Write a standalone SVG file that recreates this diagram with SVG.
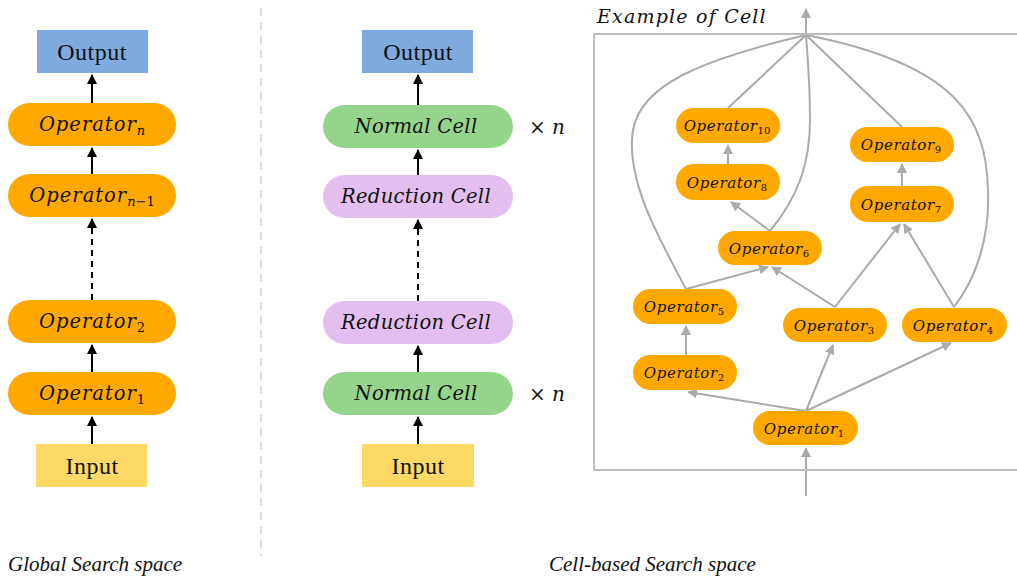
<svg xmlns="http://www.w3.org/2000/svg" width="1017" height="578" viewBox="0 0 1017 578">
  <style>
    .op { fill: #ffa800; }
    .normal { fill: #94d58b; }
    .reduct { fill: #e2bfee; }
    .out { fill: #7eaadf; }
    .in { fill: #ffd966; }
    .math { font-family: "DejaVu Serif", "Liberation Serif", serif; font-style: italic; fill: #111; }
    .big { font-size: 19.5px; letter-spacing: 1px; }
    .cellname { font-size: 19.5px; letter-spacing: 0.3px; }
    .small { font-size: 15px; letter-spacing: 0.6px; }
    .sub { font-size: 13px; font-style: normal; letter-spacing: 0; }
    .var { font-style: italic; }
    .subs { font-size: 10px; font-style: normal; letter-spacing: 0; }
    .label { font-family: "Liberation Serif", "DejaVu Serif", serif; font-size: 24px; letter-spacing: 0.5px; fill: #111; }
    .caption { font-family: "Liberation Serif", serif; font-style: italic; font-size: 21px; fill: #111; }
    .blk { stroke: #000; stroke-width: 2; fill: none; }
    .blkdash { stroke: #000; stroke-width: 2; fill: none; stroke-dasharray: 6 5; }
    .gry { stroke: #aaaaaa; stroke-width: 2; fill: none; }
  </style>
  <defs>
    <marker id="ab" viewBox="0 0 10 10" refX="9" refY="5" markerWidth="5" markerHeight="5" orient="auto" markerUnits="strokeWidth">
      <path d="M0,0 L10,5 L0,10 z" fill="#000"/>
    </marker>
    <marker id="ag" viewBox="0 0 10 10" refX="9" refY="5" markerWidth="5" markerHeight="5" orient="auto" markerUnits="strokeWidth">
      <path d="M0,0 L10,5 L0,10 z" fill="#aaaaaa"/>
    </marker>
  </defs>

  <rect width="1017" height="578" fill="#fff"/>

  <!-- divider between the two panels -->
  <line x1="261" y1="8" x2="261" y2="556" stroke="#dddddd" stroke-width="2" stroke-dasharray="8 6"/>

  <!-- connectors -->
  <g id="connectors">
    <!-- global search space -->
    <line class="blk" x1="92" y1="103" x2="92" y2="75" marker-end="url(#ab)"/>
    <line class="blk" x1="92" y1="174" x2="92" y2="148" marker-end="url(#ab)"/>
    <line class="blkdash" x1="92" y1="300" x2="92" y2="219" marker-end="url(#ab)"/>
    <line class="blk" x1="92" y1="372" x2="92" y2="345" marker-end="url(#ab)"/>
    <line class="blk" x1="92" y1="444" x2="92" y2="417" marker-end="url(#ab)"/>
    <!-- cell-based search space -->
    <line class="blk" x1="418" y1="105" x2="418" y2="75" marker-end="url(#ab)"/>
    <line class="blk" x1="418" y1="175" x2="418" y2="150" marker-end="url(#ab)"/>
    <line class="blkdash" x1="418" y1="301" x2="418" y2="220" marker-end="url(#ab)"/>
    <line class="blk" x1="418" y1="372" x2="418" y2="346" marker-end="url(#ab)"/>
    <line class="blk" x1="418" y1="444" x2="418" y2="417" marker-end="url(#ab)"/>
    <!-- example cell -->
    <line class="gry" x1="806" y1="496" x2="806" y2="448" marker-end="url(#ag)"/>
    <line class="gry" x1="806" y1="411" x2="688" y2="392" marker-end="url(#ag)"/>
    <line class="gry" x1="806" y1="411" x2="833" y2="345" marker-end="url(#ag)"/>
    <line class="gry" x1="806" y1="411" x2="951" y2="343" marker-end="url(#ag)"/>
    <line class="gry" x1="686" y1="355" x2="686" y2="326" marker-end="url(#ag)"/>
    <line class="gry" x1="686" y1="289" x2="768" y2="267" marker-end="url(#ag)"/>
    <line class="gry" x1="835" y1="307" x2="772" y2="267" marker-end="url(#ag)"/>
    <line class="gry" x1="835" y1="307" x2="900" y2="224" marker-end="url(#ag)"/>
    <line class="gry" x1="954" y1="307" x2="904" y2="224" marker-end="url(#ag)"/>
    <line class="gry" x1="770" y1="231" x2="731" y2="202" marker-end="url(#ag)"/>
    <line class="gry" x1="728" y1="164" x2="728" y2="145" marker-end="url(#ag)"/>
    <line class="gry" x1="902" y1="186" x2="902" y2="164" marker-end="url(#ag)"/>
    <line class="gry" x1="728" y1="108" x2="806" y2="35"/>
    <line class="gry" x1="902" y1="127" x2="806" y2="35"/>
    <path class="gry" d="M686,289 C660,240 625,180 633,130 C641,85 700,60 806,35"/>
    <path class="gry" d="M770,231 C800,195 810,160 810,120 C810,80 807,50 806,35"/>
    <path class="gry" d="M954,307 C975,280 990,240 988,190 C986,120 960,65 806,35"/>
    <line class="gry" x1="806" y1="35" x2="806" y2="9" marker-end="url(#ag)"/>
  </g>

  <!-- cell frame -->
  <g id="cell-frame">
    <rect x="594" y="34" width="430" height="436" fill="none" stroke="#bbbbbb" stroke-width="2"/>
    <text class="math" x="597" y="23" font-size="19" letter-spacing="1.2">Example of Cell</text>
  </g>

  <!-- global search space column -->
  <g id="g-output"><rect class="out" x="37" y="30" width="111" height="43"/><text class="label" x="92" y="60" text-anchor="middle">Output</text></g>
  <g id="g-op-n"><rect class="op" x="8" y="103" width="168" height="43" rx="21.5"/><text class="math big" x="92" y="131" text-anchor="middle">Operator<tspan class="sub var" dy="4">n</tspan></text></g>
  <g id="g-op-n1"><rect class="op" x="8" y="174" width="168" height="43" rx="21.5"/><text class="math big" x="92" y="202" text-anchor="middle">Operator<tspan class="sub var" dy="4">n</tspan><tspan class="sub">−1</tspan></text></g>
  <g id="g-op-2"><rect class="op" x="8" y="300" width="168" height="43" rx="21.5"/><text class="math big" x="92" y="328" text-anchor="middle">Operator<tspan class="sub" dy="4">2</tspan></text></g>
  <g id="g-op-1"><rect class="op" x="8" y="372" width="168" height="43" rx="21.5"/><text class="math big" x="92" y="400" text-anchor="middle">Operator<tspan class="sub" dy="4">1</tspan></text></g>
  <g id="g-input"><rect class="in" x="36" y="444" width="111" height="43"/><text class="label" x="92" y="474" text-anchor="middle">Input</text></g>

  <!-- cell-based search space column -->
  <g id="c-output"><rect class="out" x="362" y="30" width="111" height="43"/><text class="label" x="418" y="60" text-anchor="middle">Output</text></g>
  <g id="c-normal-top"><rect class="normal" x="323" y="105" width="190" height="43" rx="21.5"/><text class="math cellname" x="416" y="133" text-anchor="middle">Normal Cell</text></g>
  <g id="c-reduction-top"><rect class="reduct" x="323" y="175" width="190" height="43" rx="21.5"/><text class="math cellname" x="416" y="203" text-anchor="middle">Reduction Cell</text></g>
  <g id="c-reduction-bottom"><rect class="reduct" x="323" y="301" width="190" height="43" rx="21.5"/><text class="math cellname" x="416" y="329" text-anchor="middle">Reduction Cell</text></g>
  <g id="c-normal-bottom"><rect class="normal" x="323" y="372" width="190" height="43" rx="21.5"/><text class="math cellname" x="416" y="400" text-anchor="middle">Normal Cell</text></g>
  <g id="c-input"><rect class="in" x="362" y="444" width="112" height="43"/><text class="label" x="418" y="474" text-anchor="middle">Input</text></g>
  <g id="times-top"><text class="math" font-size="20" x="529" y="134"><tspan font-style="normal">×</tspan> n</text></g>
  <g id="times-bottom"><text class="math" font-size="20" x="529" y="401"><tspan font-style="normal">×</tspan> n</text></g>

  <!-- operators inside the example cell -->
  <g id="op10"><rect class="op" x="676" y="108" width="104" height="35" rx="17.5"/><text class="math small" x="727" y="131" text-anchor="middle">Operator<tspan class="subs" dy="3">10</tspan></text></g>
  <g id="op8"><rect class="op" x="676" y="164" width="104" height="36" rx="18"/><text class="math small" x="727" y="188" text-anchor="middle">Operator<tspan class="subs" dy="3">8</tspan></text></g>
  <g id="op9"><rect class="op" x="850" y="127" width="104" height="35" rx="17.5"/><text class="math small" x="901" y="150" text-anchor="middle">Operator<tspan class="subs" dy="3">9</tspan></text></g>
  <g id="op7"><rect class="op" x="850" y="186" width="104" height="36" rx="18"/><text class="math small" x="901" y="210" text-anchor="middle">Operator<tspan class="subs" dy="3">7</tspan></text></g>
  <g id="op6"><rect class="op" x="718" y="231" width="104" height="34" rx="17"/><text class="math small" x="769" y="254" text-anchor="middle">Operator<tspan class="subs" dy="3">6</tspan></text></g>
  <g id="op5"><rect class="op" x="633" y="289" width="104" height="35" rx="17.5"/><text class="math small" x="684" y="312" text-anchor="middle">Operator<tspan class="subs" dy="3">5</tspan></text></g>
  <g id="op3"><rect class="op" x="783" y="308" width="104" height="34" rx="17"/><text class="math small" x="834" y="331" text-anchor="middle">Operator<tspan class="subs" dy="3">3</tspan></text></g>
  <g id="op4"><rect class="op" x="902" y="308" width="105" height="34" rx="17"/><text class="math small" x="953" y="331" text-anchor="middle">Operator<tspan class="subs" dy="3">4</tspan></text></g>
  <g id="op2"><rect class="op" x="633" y="355" width="104" height="35" rx="17.5"/><text class="math small" x="684" y="378" text-anchor="middle">Operator<tspan class="subs" dy="3">2</tspan></text></g>
  <g id="op1"><rect class="op" x="753" y="411" width="105" height="34" rx="17"/><text class="math small" x="804" y="434" text-anchor="middle">Operator<tspan class="subs" dy="3">1</tspan></text></g>

  <!-- panel captions -->
  <text class="caption" x="8" y="571">Global Search space</text>
  <text class="caption" x="549" y="571">Cell-based Search space</text>
</svg>
